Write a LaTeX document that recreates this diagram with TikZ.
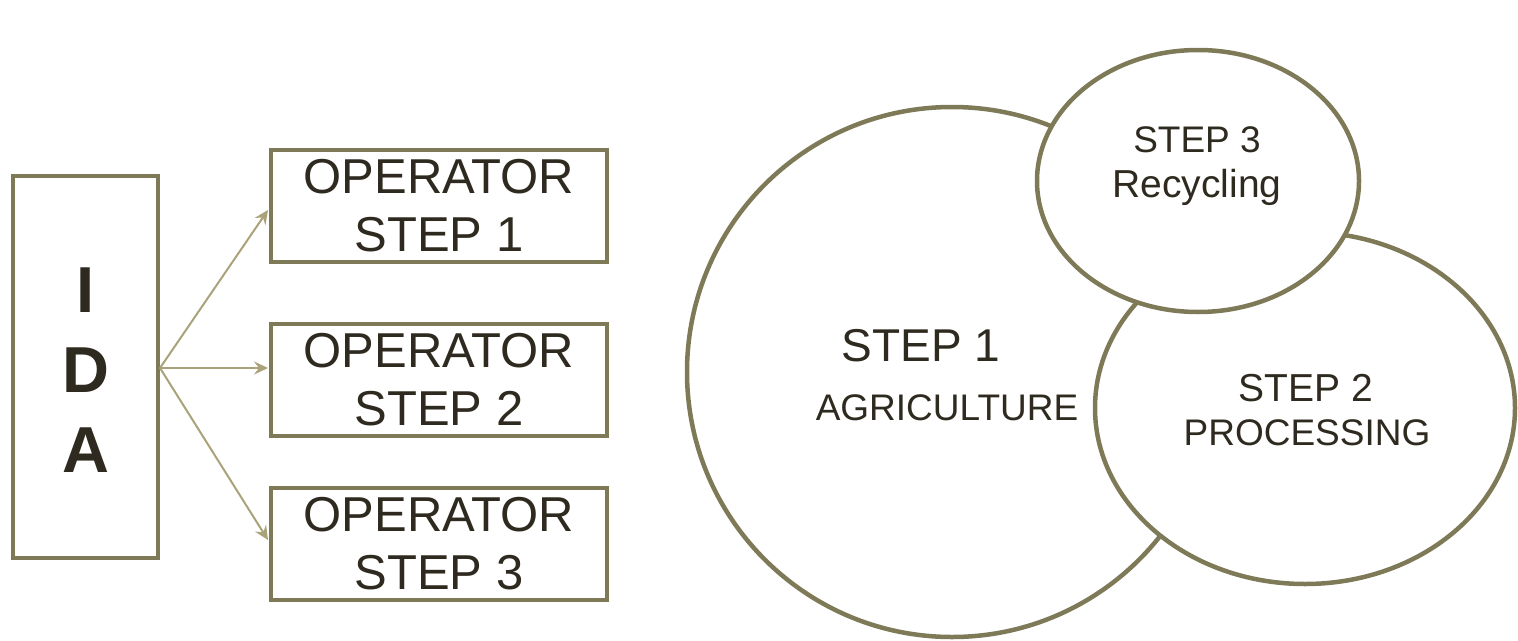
\documentclass[tikz,border=0pt]{standalone}
\usepackage{fontspec}
\setmainfont{Liberation Sans}
\usetikzlibrary{shapes.geometric,arrows.meta}
\definecolor{olive}{HTML}{7E7A58}
\definecolor{arrowc}{HTML}{A9A27A}
\definecolor{txt}{HTML}{2F2A1F}
\tikzset{
  boxstyle/.style={draw=olive, line width=4.5pt, fill=white, inner sep=0pt},
  ellstyle/.style={ellipse, draw=olive, line width=4.5pt, fill=white, inner sep=0pt},
  conn/.style={draw=arrowc, line width=2pt, -{Stealth[length=14pt, width=13pt, inset=5pt]}},
  optext/.style={text=txt, align=center, font=\fontsize{49}{58}\selectfont},
}
\begin{document}
\begin{tikzpicture}[x=1pt, y=-1pt]
\useasboundingbox (0,0) rectangle (1518,640);
% left part
\node[boxstyle, minimum width=145pt, minimum height=382pt] (ida) at (85.5,367) {};
\node[text=txt, font=\fontsize{65}{80}\bfseries] (idaI) at (86,290) {I};
\node[text=txt, font=\fontsize{65}{80}\bfseries] (idaD) at (86,370) {D};
\node[text=txt, font=\fontsize{65}{80}\bfseries] (idaA) at (86,450) {A};

\node[boxstyle, minimum width=336pt, minimum height=112pt, optext] (op1) at (439,206) {OPERATOR\\STEP 1};
\node[boxstyle, minimum width=336pt, minimum height=112pt, optext] (op2) at (439,380) {OPERATOR\\STEP 2};
\node[boxstyle, minimum width=336pt, minimum height=112pt, optext] (op3) at (439,544) {OPERATOR\\STEP 3};

\coordinate (t1) at (268,210);
\coordinate (t2) at (268,368);
\coordinate (t3) at (268,540);
\coordinate (src) at (160,368);
\draw[conn] (src) -- (t1);
\draw[conn] (src) -- (t2);
\draw[conn] (src) -- (t3);

% right part
\node[ellstyle, minimum width=530pt, minimum height=530pt] (s1) at (952,372) {};
\node[ellstyle, minimum width=420pt, minimum height=352pt] (s2) at (1305,408) {};
\node[ellstyle, minimum width=322pt, minimum height=262pt] (s3) at (1198,181) {};

\node[text=txt, font=\fontsize{46}{50}\selectfont] (s1a) at (921,346) {STEP 1};
\node[text=txt, font=\fontsize{37}{44}\selectfont] (s1b) at (947,408) {AGRICULTURE};
\node[text=txt, font=\fontsize{39}{44}\selectfont] (s2a) at (1306,388) {STEP 2};
\node[text=txt, font=\fontsize{37}{44}\selectfont] (s2b) at (1307,433) {PROCESSING};
\node[text=txt, font=\fontsize{37}{44}\selectfont] (s3a) at (1197,140) {STEP 3};
\node[text=txt, font=\fontsize{39}{44}\selectfont] (s3b) at (1197,187) {Recycling};
\end{tikzpicture}
\end{document}
